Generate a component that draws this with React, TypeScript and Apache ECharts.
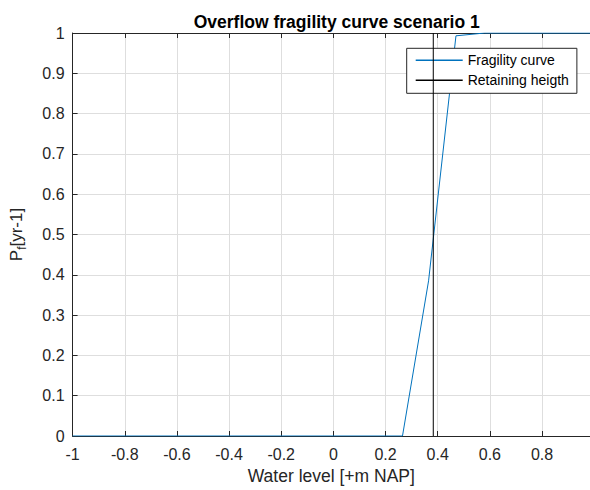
import React, { useEffect, useRef } from "react";
import * as echarts from "echarts";

const waterLevel = [-1, 0.265, 0.365, 0.47, 0.58, 0.99];
const failureProb = [0, 0, 0.385, 0.993, 1, 1];
const retainingHeight = 0.383;
const retainingY = [0, 1];
const xTicks = { min: -1, max: 0.984, interval: 0.2 };
const yTicks = { min: 0, max: 1, interval: 0.1 };

const fmt = (v: number) => String(Math.round(v * 10) / 10);

export default function App() {
  const ref = useRef<HTMLDivElement>(null);
  useEffect(() => {
    if (!ref.current) return;
    const chart = echarts.init(ref.current, undefined, { renderer: "svg" });
    const axisColor = "#262626";
    const gridColor = "#dedede";
    const font = "Liberation Sans, Arial, sans-serif";
    chart.setOption({
      animation: false,
      textStyle: { fontFamily: font },
      title: {
        text: "Overflow fragility curve scenario 1",
        left: 331.7,
        textAlign: "center",
        top: 8,
        textStyle: { fontSize: 17.5, fontWeight: "bold", color: "#000", fontFamily: font },
      },
      grid: { left: 72.6, right: 0, top: 33, bottom: 48, containLabel: false },
      legend: {
        orient: "vertical",
        left: 406.7,
        top: 48.3,
        backgroundColor: "#fff",
        borderColor: axisColor,
        borderWidth: 1,
        borderRadius: 0,
        padding: [4, 8, 5, 9],
        itemGap: 4,
        itemWidth: 47,
        itemHeight: 1.5,
        icon: "rect",
        textStyle: { fontSize: 14, color: "#000", fontFamily: font, lineHeight: 16 },
        data: ["Fragility curve", "Retaining heigth"],
      },
      xAxis: [
        {
          type: "value",
          min: xTicks.min,
          max: xTicks.max,
          interval: xTicks.interval,
          name: "Water level [+m NAP]",
          nameLocation: "middle",
          nameGap: 31,
          nameTextStyle: { fontSize: 17.5, color: axisColor, fontFamily: font },
          axisLine: { show: true, onZero: false, lineStyle: { color: axisColor, width: 1 } },
          axisTick: { show: true, inside: true, length: 5, lineStyle: { color: axisColor } },
          axisLabel: {
            fontSize: 16,
            color: axisColor,
            margin: 10,
            showMaxLabel: false,
            formatter: fmt,
          },
          splitLine: { show: true, lineStyle: { color: gridColor, width: 1 } },
        },
        {
          type: "value",
          position: "top",
          min: xTicks.min,
          max: xTicks.max,
          interval: xTicks.interval,
          axisLine: { show: true, onZero: false, lineStyle: { color: axisColor, width: 1 } },
          axisTick: { show: true, inside: true, length: 5, lineStyle: { color: axisColor } },
          axisLabel: { show: false },
          splitLine: { show: false },
        },
      ],
      yAxis: {
        type: "value",
        min: yTicks.min,
        max: yTicks.max,
        interval: yTicks.interval,
        name: "{a|P}{s|f}{a|[yr-1]}",
        nameLocation: "middle",
        nameGap: 45,
        nameRotate: 90,
        nameTextStyle: {
          color: axisColor,
          rich: {
            a: { fontSize: 17, color: axisColor, fontFamily: font },
            s: { fontSize: 12, color: axisColor, fontFamily: font, verticalAlign: "bottom", padding: [10, 0, 0, 0] },
          },
        },
        axisLine: { show: true, onZero: false, lineStyle: { color: axisColor, width: 1 } },
        axisTick: { show: true, inside: true, length: 5, lineStyle: { color: axisColor } },
        axisLabel: { fontSize: 16, color: axisColor, margin: 8, formatter: fmt },
        splitLine: { show: true, lineStyle: { color: gridColor, width: 1 } },
      },
      series: [
        {
          name: "Fragility curve",
          type: "line",
          xAxisIndex: 0,
          data: waterLevel.map((x, i) => [x, failureProb[i]]),
          symbol: "none",
          lineStyle: { color: "#0072BD", width: 1 },
          itemStyle: { color: "#0072BD" },
          z: 3,
        },
        {
          name: "Retaining heigth",
          type: "line",
          xAxisIndex: 0,
          data: retainingY.map((y) => [retainingHeight, y]),
          symbol: "none",
          lineStyle: { color: "#000", width: 1 },
          itemStyle: { color: "#000" },
          z: 4,
        },
      ],
    });
    return () => chart.dispose();
  }, []);
  return <div ref={ref} style={{ width: 590, height: 490, position: "absolute", left: 0, top: 0, background: "#fff" }} />;
}
